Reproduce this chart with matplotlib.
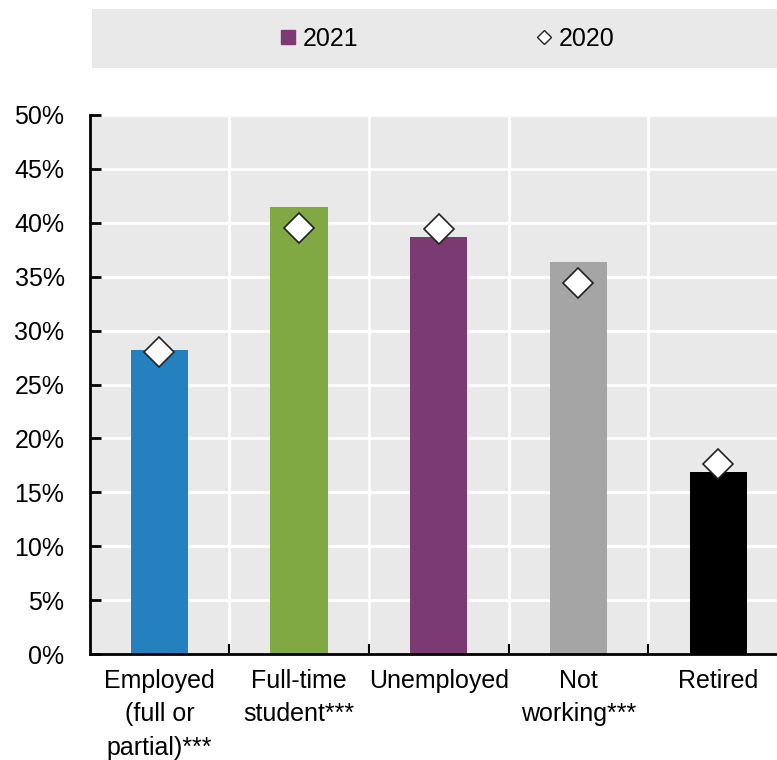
import matplotlib
matplotlib.use("Agg")
import matplotlib.pyplot as plt
from matplotlib.patches import Rectangle
from matplotlib.lines import Line2D
from matplotlib.ticker import FixedLocator, FuncFormatter

plt.rcParams['font.family'] = ['Liberation Sans', 'DejaVu Sans']

categories = ["Employed\n(full or\npartial)***", "Full-time\nstudent***", "Unemployed",
              "Not\nworking***", "Retired"]
values_2021 = [28.2, 41.5, 38.7, 36.4, 16.9]
values_2020 = [28.0, 39.5, 39.4, 34.4, 17.6]
bar_colors = ["#2580c0", "#80a944", "#7b3a71", "#a5a5a5", "#000000"]
y_ticks = [0, 5, 10, 15, 20, 25, 30, 35, 40, 45, 50]

W, H = 777, 760
FS = 18
fig = plt.figure(figsize=(W / 100, H / 100), dpi=100)

# plot area in pixel terms
left_px, right_px, top_px, bottom_px = 89.5, 788.0, 115.0, 654.0
ax = fig.add_axes([left_px / W, (H - bottom_px) / H,
                   (right_px - left_px) / W, (bottom_px - top_px) / H])
ax.set_facecolor("#e9e9e9")

x = list(range(len(categories)))
ax.bar(x, values_2021, width=0.41, color=bar_colors, zorder=3)
ax.plot(x, values_2020, linestyle="none", marker="D", markersize=15.5,
        markerfacecolor="white", markeredgecolor="#222222", markeredgewidth=1.2,
        zorder=4)

ax.set_xlim(-0.5, len(categories) - 0.5)
ax.set_ylim(0, 50)

ax.set_yticks(y_ticks)
ax.yaxis.set_major_formatter(FuncFormatter(lambda v, p: f"{v:.0f}%"))
ax.set_xticks(x)
ax.set_xticklabels(categories, fontsize=FS, linespacing=1.48)
ax.xaxis.set_minor_locator(FixedLocator([i + 0.5 for i in range(len(categories) - 1)]))

ax.tick_params(axis="y", direction="in", length=8, width=2, labelsize=FS, pad=18)
ax.tick_params(axis="x", which="major", length=0, pad=11)
ax.tick_params(axis="x", which="minor", direction="in", length=7, width=1.5)

ax.grid(axis="y", color="white", linewidth=2, zorder=1)
ax.grid(axis="x", which="minor", color="white", linewidth=2, zorder=1)
ax.set_axisbelow(True)

for side in ("top", "right"):
    ax.spines[side].set_visible(False)
for side in ("left", "bottom"):
    ax.spines[side].set_linewidth(2)
    ax.spines[side].set_color("black")
    ax.spines[side].set_zorder(5)

# legend band
fig.patches.append(Rectangle((92 / W, (H - 68) / H), (777 - 92) / W, 59 / H,
                             transform=fig.transFigure, facecolor="#e9e9e9",
                             edgecolor="none", zorder=0))
handles = [
    Line2D([], [], linestyle="none", marker="s", markersize=10.5,
           markerfacecolor="#7b3a71", markeredgecolor="#7b3a71"),
    Line2D([], [], linestyle="none", marker="D", markersize=7,
           markerfacecolor="white", markeredgecolor="#222222", markeredgewidth=1),
]
fig.legend(handles, ["2021", "2020"], loc="center", ncol=2, frameon=False,
           bbox_to_anchor=(447.5 / W, 1 - 38.5 / H), fontsize=FS,
           handlelength=0.6, handletextpad=0.3, columnspacing=7.1)

fig.savefig("out.png", dpi=100)
